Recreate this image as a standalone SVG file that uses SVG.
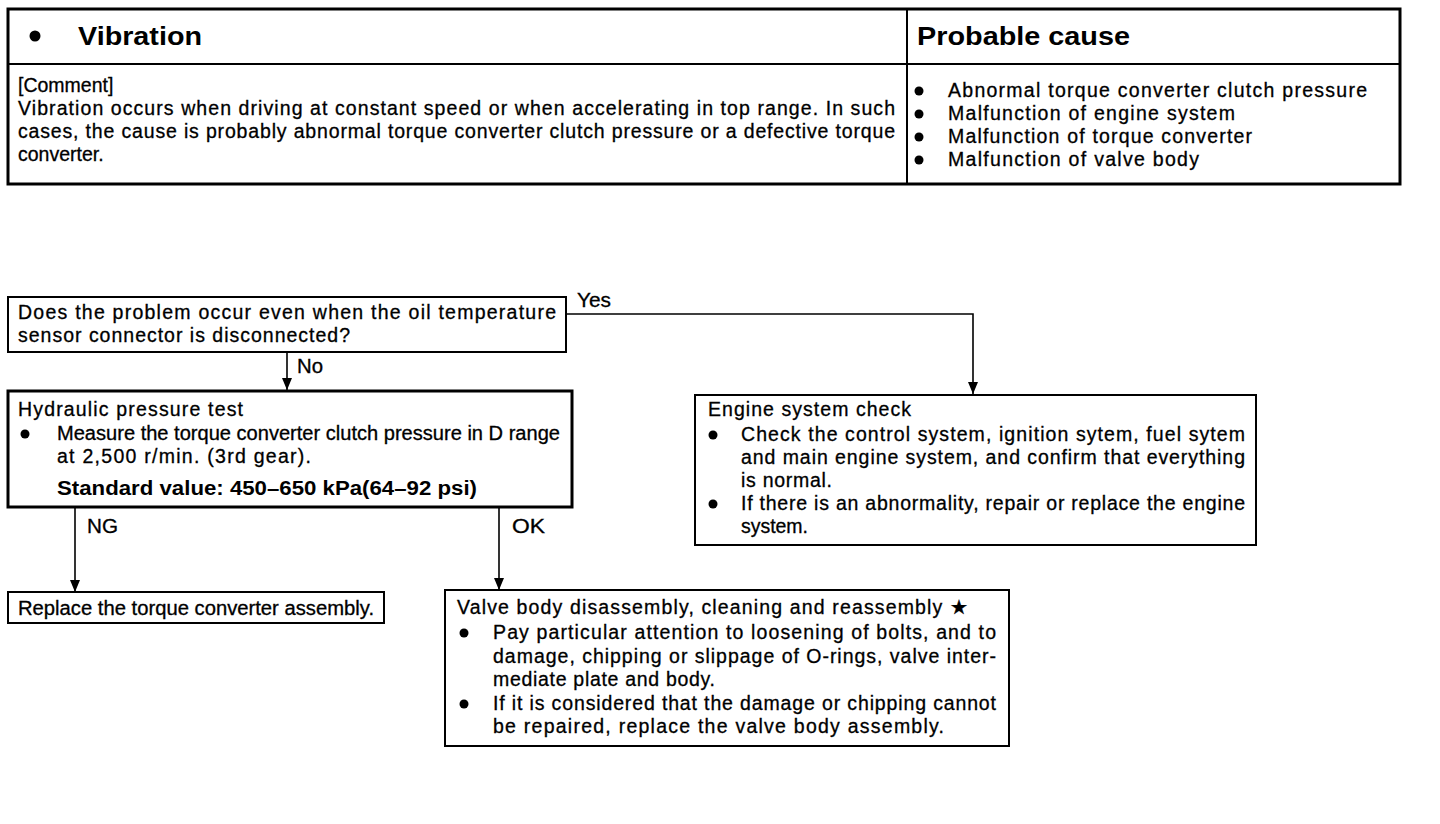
<svg xmlns="http://www.w3.org/2000/svg" width="1440" height="824" viewBox="0 0 1440 824">
<style>
.t{font-family:"Liberation Sans",Arial,sans-serif;font-size:19.5px;fill:#000;stroke:#000;stroke-width:0.3;}
.b{font-family:"Liberation Sans",Arial,sans-serif;font-weight:bold;fill:#000;}
.box{fill:#fff;stroke:#000;stroke-width:2;}
.thick{fill:#fff;stroke:#000;stroke-width:3;}
.ln{fill:none;stroke:#000;stroke-width:2;}
.c{fill:none;stroke:#000;stroke-width:1.6;}
</style>
<defs>
<marker id="ah" viewBox="0 0 12 10" refX="12" refY="5" markerWidth="12" markerHeight="10" markerUnits="userSpaceOnUse" orient="auto">
<path d="M0,0 L12,5 L0,10 Z" fill="#000"/>
</marker>
</defs>
<rect width="1440" height="824" fill="#fff"/>

<g id="table">
<rect x="8" y="9" width="1392" height="175" fill="#fff" stroke="#000" stroke-width="3"/>
<line x1="8" y1="64" x2="1400" y2="64" class="ln"/>
<line x1="907" y1="9" x2="907" y2="184" class="ln" stroke-width="1.5"/>
<circle cx="35" cy="36" r="5.5" fill="#000"/>
<text x="78" y="45" class="b" font-size="25" textLength="124" lengthAdjust="spacingAndGlyphs">Vibration</text>
<text x="917" y="45" class="b" font-size="25" textLength="213" lengthAdjust="spacingAndGlyphs">Probable cause</text>
<text x="18" y="92" class="t">[Comment]</text>
<text x="18" y="115" class="t" textLength="877" lengthAdjust="spacing">Vibration occurs when driving at constant speed or when accelerating in top range.  In such</text>
<text x="18" y="138" class="t" textLength="877" lengthAdjust="spacing">cases, the cause is probably abnormal torque converter clutch pressure or a defective torque</text>
<text x="18" y="161" class="t">converter.</text>
<g fill="#000">
<circle cx="919" cy="91" r="4.5"/>
<circle cx="919" cy="114" r="4.5"/>
<circle cx="919" cy="137" r="4.5"/>
<circle cx="919" cy="160" r="4.5"/>
</g>
<text x="948" y="97" class="t" textLength="419" lengthAdjust="spacing">Abnormal torque converter clutch pressure</text>
<text x="948" y="120" class="t" textLength="287" lengthAdjust="spacing">Malfunction of engine system</text>
<text x="948" y="143" class="t" textLength="304" lengthAdjust="spacing">Malfunction of torque converter</text>
<text x="948" y="166" class="t" textLength="251" lengthAdjust="spacing">Malfunction of valve body</text>
</g>

<g id="connectors">
<polyline points="566,314 973,314 973,394" class="c" marker-end="url(#ah)"/>
<line x1="287" y1="352" x2="287" y2="390" class="c" marker-end="url(#ah)"/>
<line x1="75" y1="507" x2="75" y2="592" class="c" marker-end="url(#ah)"/>
<line x1="499" y1="507" x2="499" y2="590" class="c" marker-end="url(#ah)"/>
<text x="577" y="307" class="t" textLength="34" lengthAdjust="spacingAndGlyphs">Yes</text>
<text x="297" y="373" class="t" textLength="26" lengthAdjust="spacingAndGlyphs">No</text>
<text x="87" y="533" class="t" textLength="31" lengthAdjust="spacingAndGlyphs">NG</text>
<text x="512" y="533" class="t" textLength="33" lengthAdjust="spacingAndGlyphs">OK</text>
</g>

<g id="q1">
<rect x="8" y="297" width="558" height="55" class="box"/>
<text x="18" y="319" class="t" textLength="538" lengthAdjust="spacing">Does the problem occur even when the oil temperature</text>
<text x="18" y="342" class="t" textLength="332" lengthAdjust="spacing">sensor connector is disconnected?</text>
</g>

<g id="pressure-test">
<rect x="8" y="391" width="564" height="116" class="thick"/>
<text x="18" y="416" class="t" textLength="225" lengthAdjust="spacing">Hydraulic pressure test</text>
<circle cx="25" cy="434" r="4.5" fill="#000"/>
<text x="57" y="440" class="t" textLength="503" lengthAdjust="spacingAndGlyphs">Measure the torque converter clutch pressure in D range</text>
<text x="57" y="463" class="t" textLength="254" lengthAdjust="spacing">at 2,500 r/min. (3rd gear).</text>
<text x="57" y="495" class="b" font-size="19.5" textLength="420" lengthAdjust="spacingAndGlyphs">Standard value: 450–650 kPa(64–92 psi)</text>
</g>

<g id="replace-converter">
<rect x="8" y="592" width="376" height="31" class="box"/>
<text x="18" y="615" class="t" textLength="356" lengthAdjust="spacingAndGlyphs">Replace the torque converter assembly.</text>
</g>

<g id="engine-check">
<rect x="695" y="395" width="561" height="150" class="box"/>
<text x="708" y="416" class="t" textLength="203" lengthAdjust="spacing">Engine system check</text>
<circle cx="713" cy="435" r="4.5" fill="#000"/>
<text x="741" y="441" class="t" textLength="504" lengthAdjust="spacing">Check the control system, ignition sytem, fuel sytem</text>
<text x="741" y="464" class="t" textLength="504" lengthAdjust="spacing">and main engine system, and confirm that everything</text>
<text x="741" y="487" class="t" textLength="91" lengthAdjust="spacing">is normal.</text>
<circle cx="713" cy="504" r="4.5" fill="#000"/>
<text x="741" y="510" class="t" textLength="504" lengthAdjust="spacing">If there is an abnormality, repair or replace the engine</text>
<text x="741" y="533" class="t" textLength="67" lengthAdjust="spacing">system.</text>
</g>

<g id="valve-body">
<rect x="445" y="590" width="564" height="156" class="box"/>
<text x="457" y="614" class="t" textLength="511" lengthAdjust="spacing">Valve body disassembly, cleaning and reassembly ★</text>
<circle cx="464" cy="633" r="4.5" fill="#000"/>
<text x="493" y="639" class="t" textLength="503" lengthAdjust="spacing">Pay particular attention to loosening of bolts, and to</text>
<text x="493" y="663" class="t" textLength="503" lengthAdjust="spacing">damage, chipping or slippage of O-rings, valve inter-</text>
<text x="493" y="686" class="t" textLength="222" lengthAdjust="spacing">mediate plate and body.</text>
<circle cx="464" cy="704" r="4.5" fill="#000"/>
<text x="493" y="710" class="t" textLength="503" lengthAdjust="spacing">If it is considered that the damage or chipping cannot</text>
<text x="493" y="733" class="t" textLength="451" lengthAdjust="spacing">be repaired, replace the valve body assembly.</text>
</g>
</svg>
